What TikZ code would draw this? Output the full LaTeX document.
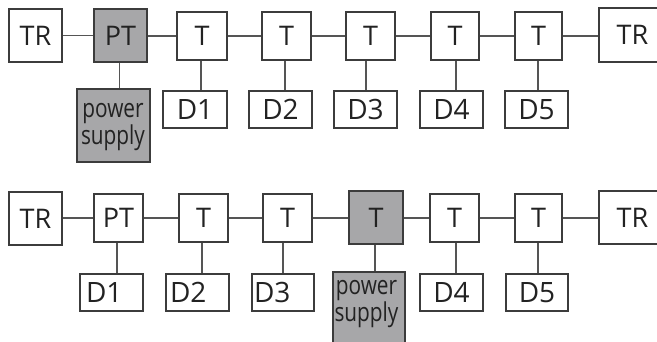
\documentclass[tikz,border=0pt]{standalone}
\usepackage{fontspec}
\setmainfont{Open Sans}
\newfontfamily\psfont[FakeStretch=0.8]{Open Sans}
\definecolor{boxc}{HTML}{3C3C3C}
\definecolor{linec}{HTML}{555555}
\definecolor{grayf}{HTML}{A7A7A9}
\definecolor{txt}{HTML}{222222}
\begin{document}
\begin{tikzpicture}[x=1pt,y=-1pt,
  box/.style={draw=boxc, line width=1.3pt, fill=white, inner sep=0pt, text=txt,
    font=\fontsize{27}{27}\selectfont},
  gbox/.style={box, fill=grayf},
  dbox/.style={box, minimum width=63pt, minimum height=37pt, font=\fontsize{28}{28}\selectfont},
  tbox/.style={box, minimum width=49pt, minimum height=48pt},
  pstext/.style={align=center, text=txt, inner sep=0pt, font=\psfont\fontsize{26}{#1}\selectfont},
  conn/.style={draw=linec, line width=1.4pt}]
\useasboundingbox (0,0) rectangle (657,342);
\clip (0,0) rectangle (657,342);
% ---------- top row ----------
\node[box, minimum width=53pt, minimum height=53pt] (tTR1) at (35.5,35.5) {TR};
\node[gbox, minimum width=53pt, minimum height=53pt] (tPT) at (120.5,35.5) {PT};
\node[tbox, minimum width=50pt] (tT1) at (202,36) {T};
\node[tbox] (tT2) at (286.5,36) {T};
\node[tbox] (tT3) at (370.5,36) {T};
\node[tbox, minimum width=48pt] (tT4) at (455,36) {T};
\node[tbox, minimum width=47pt] (tT5) at (538.5,36) {T};
\node[box, minimum width=67pt, minimum height=54pt] (tTR2) at (632.5,35) {TR};
\node[gbox, minimum width=73pt, minimum height=73pt] (tPS) at (113.5,125.5) {};
\node[pstext=25pt] (tPSt) at (113,126.7) {power\\supply};
\node[dbox, minimum width=64pt] (tD1) at (195,109.5) {D1};
\node[dbox] (tD2) at (280.5,109.5) {D2};
\node[dbox] (tD3) at (365.5,109.5) {D3};
\node[dbox] (tD4) at (451.5,109.5) {D4};
\node[dbox] (tD5) at (536.5,109.5) {D5};
% top connectors
\draw[conn] (tTR1.east) -- (tTR1.east -| tPT.west);
\draw[conn] (tPT.east |- tT1.west) -- (tT1.west);
\draw[conn] (tT1.east) -- (tT2.west);
\draw[conn] (tT2.east) -- (tT3.west);
\draw[conn] (tT3.east) -- (tT4.west);
\draw[conn] (tT4.east) -- (tT5.west);
\draw[conn] (tT5.east) -- (tT5.east -| tTR2.west);
\draw[conn] ([xshift=-1pt]tPT.south) -- ([xshift=-1pt]tPT.south |- tPS.north);
\draw[conn] ([xshift=-1pt]tT1.south) -- ([xshift=-1pt]tT1.south |- tD1.north);
\draw[conn] ([xshift=-1.5pt]tT2.south) -- ([xshift=-1.5pt]tT2.south |- tD2.north);
\draw[conn] ([xshift=-4.5pt]tT3.south) -- ([xshift=-4.5pt]tT3.south |- tD3.north);
\draw[conn] ([xshift=1pt]tT4.south) -- ([xshift=1pt]tT4.south |- tD4.north);
\draw[conn] ([xshift=-0.5pt]tT5.south) -- ([xshift=-0.5pt]tT5.south |- tD5.north);
% ---------- bottom row ----------
\node[box, minimum width=53pt, minimum height=53pt] (bTR1) at (35.5,218.5) {TR};
\node[tbox] (bPT) at (118.5,218) {PT};
\node[tbox] (bT1) at (203.5,218) {T};
\node[tbox] (bT2) at (287.5,218) {T};
\node[gbox, minimum width=54pt, minimum height=53pt] (bT3) at (376,217.5) {T};
\node[tbox] (bT4) at (454.5,218) {T};
\node[tbox, minimum width=47pt] (bT5) at (538.5,218) {T};
\node[box, minimum width=67pt, minimum height=53pt] (bTR2) at (632.5,217.5) {TR};
\node[dbox, text width=63pt, align=left] (bD1) at (111.5,292.5) {\hspace*{6pt}D1};
\node[dbox, text width=63pt, align=left] (bD2) at (197.5,292.5) {\hspace*{4pt}D2};
\node[dbox, minimum width=62pt, text width=62pt, align=left] (bD3) at (283,292.5) {\hspace*{2pt}D3};
\node[gbox, minimum width=72pt, minimum height=73pt] (bPS) at (369,308.5) {};
\node[pstext=24pt] (bPSt) at (366.5,304.2) {power\\supply};
\node[dbox] (bD4) at (451.5,292.5) {D4};
\node[dbox, minimum width=62pt] (bD5) at (537,292.5) {D5};
% bottom connectors
\draw[conn] (bTR1.east |- bPT.west) -- (bPT.west);
\draw[conn] (bPT.east) -- (bT1.west);
\draw[conn] (bT1.east) -- (bT2.west);
\draw[conn] (bT2.east) -- (bT2.east -| bT3.west);
\draw[conn] (bT3.east |- bT4.west) -- (bT4.west);
\draw[conn] (bT4.east) -- (bT5.west);
\draw[conn] (bT5.east) -- (bT5.east -| bTR2.west);
\draw[conn] ([xshift=-1.5pt]bPT.south) -- ([xshift=-1.5pt]bPT.south |- bD1.north);
\draw[conn] ([xshift=-1.5pt]bT1.south) -- ([xshift=-1.5pt]bT1.south |- bD2.north);
\draw[conn] ([xshift=-4.5pt]bT2.south) -- ([xshift=-4.5pt]bT2.south |- bD3.north);
\draw[conn] ([xshift=-1pt]bT3.south) -- ([xshift=-1pt]bT3.south |- bPS.north);
\draw[conn] ([xshift=1.5pt]bT4.south) -- ([xshift=1.5pt]bT4.south |- bD4.north);
\draw[conn] ([xshift=-0.5pt]bT5.south) -- ([xshift=-0.5pt]bT5.south |- bD5.north);
\end{tikzpicture}
\end{document}
